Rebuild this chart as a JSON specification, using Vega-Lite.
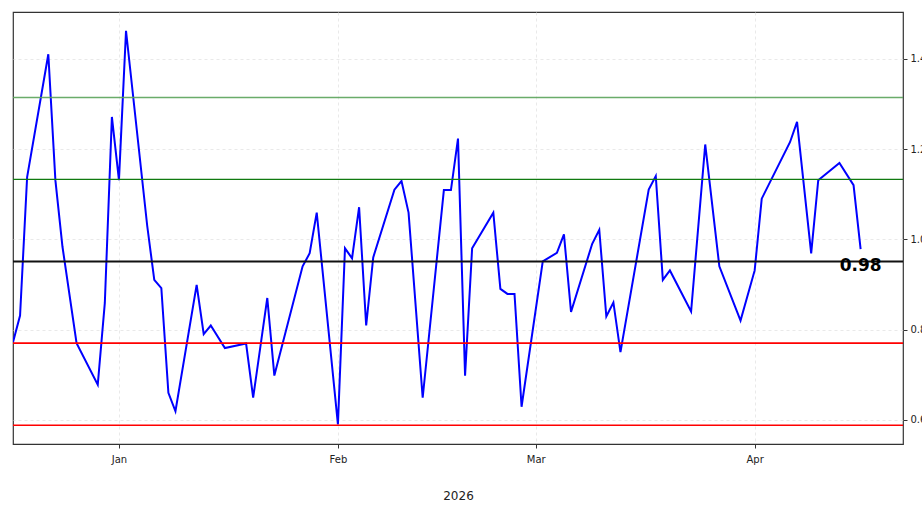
{
  "$schema": "https://vega.github.io/schema/vega-lite/v6.json",
  "width": 890,
  "height": 432,
  "autosize": {"type": "none"},
  "padding": {"left": 13, "top": 12, "right": 19, "bottom": 69},
  "background": "white",
  "config": {
    "font": "DejaVu Sans",
    "view": {"stroke": "#333333", "strokeWidth": 1.2},
    "axis": {
      "domain": false,
      "grid": true,
      "gridColor": "#e3e3e3",
      "gridDash": [3, 3],
      "gridWidth": 0.8,
      "tickColor": "#333333",
      "tickSize": 4,
      "labelColor": "#222222",
      "labelFontSize": 10,
      "titleColor": "#222222",
      "titleFontWeight": "normal"
    }
  },
  "datasets": {
    "series": [
      {"date": "2025-12-17", "value": 0.772},
      {"date": "2025-12-18", "value": 0.831},
      {"date": "2025-12-19", "value": 1.138},
      {"date": "2025-12-22", "value": 1.410},
      {"date": "2025-12-23", "value": 1.131},
      {"date": "2025-12-24", "value": 0.984},
      {"date": "2025-12-26", "value": 0.770},
      {"date": "2025-12-29", "value": 0.678},
      {"date": "2025-12-30", "value": 0.859},
      {"date": "2025-12-31", "value": 1.271},
      {"date": "2026-01-01", "value": 1.131},
      {"date": "2026-01-02", "value": 1.462},
      {"date": "2026-01-05", "value": 1.030},
      {"date": "2026-01-06", "value": 0.910},
      {"date": "2026-01-07", "value": 0.892},
      {"date": "2026-01-08", "value": 0.660},
      {"date": "2026-01-09", "value": 0.619},
      {"date": "2026-01-12", "value": 0.899},
      {"date": "2026-01-13", "value": 0.790},
      {"date": "2026-01-14", "value": 0.809},
      {"date": "2026-01-16", "value": 0.759},
      {"date": "2026-01-19", "value": 0.769},
      {"date": "2026-01-20", "value": 0.649},
      {"date": "2026-01-22", "value": 0.870},
      {"date": "2026-01-23", "value": 0.698},
      {"date": "2026-01-27", "value": 0.940},
      {"date": "2026-01-28", "value": 0.969},
      {"date": "2026-01-29", "value": 1.059},
      {"date": "2026-02-01", "value": 0.590},
      {"date": "2026-02-02", "value": 0.980},
      {"date": "2026-02-03", "value": 0.958},
      {"date": "2026-02-04", "value": 1.071},
      {"date": "2026-02-05", "value": 0.809},
      {"date": "2026-02-06", "value": 0.960},
      {"date": "2026-02-09", "value": 1.110},
      {"date": "2026-02-10", "value": 1.129},
      {"date": "2026-02-11", "value": 1.059},
      {"date": "2026-02-13", "value": 0.649},
      {"date": "2026-02-16", "value": 1.109},
      {"date": "2026-02-17", "value": 1.109},
      {"date": "2026-02-18", "value": 1.223},
      {"date": "2026-02-19", "value": 0.698},
      {"date": "2026-02-20", "value": 0.980},
      {"date": "2026-02-23", "value": 1.059},
      {"date": "2026-02-24", "value": 0.890},
      {"date": "2026-02-25", "value": 0.879},
      {"date": "2026-02-26", "value": 0.879},
      {"date": "2026-02-27", "value": 0.629},
      {"date": "2026-03-02", "value": 0.951},
      {"date": "2026-03-04", "value": 0.970},
      {"date": "2026-03-05", "value": 1.011},
      {"date": "2026-03-06", "value": 0.839},
      {"date": "2026-03-09", "value": 0.990},
      {"date": "2026-03-10", "value": 1.021},
      {"date": "2026-03-11", "value": 0.829},
      {"date": "2026-03-12", "value": 0.860},
      {"date": "2026-03-13", "value": 0.750},
      {"date": "2026-03-17", "value": 1.110},
      {"date": "2026-03-18", "value": 1.140},
      {"date": "2026-03-19", "value": 0.910},
      {"date": "2026-03-20", "value": 0.931},
      {"date": "2026-03-23", "value": 0.840},
      {"date": "2026-03-25", "value": 1.210},
      {"date": "2026-03-27", "value": 0.940},
      {"date": "2026-03-30", "value": 0.820},
      {"date": "2026-04-01", "value": 0.931},
      {"date": "2026-04-02", "value": 1.090},
      {"date": "2026-04-06", "value": 1.215},
      {"date": "2026-04-07", "value": 1.260},
      {"date": "2026-04-09", "value": 0.969},
      {"date": "2026-04-10", "value": 1.131},
      {"date": "2026-04-13", "value": 1.169},
      {"date": "2026-04-15", "value": 1.120},
      {"date": "2026-04-16", "value": 0.978}
    ],
    "levels": [
      {"name": "plus2", "level": 1.314},
      {"name": "plus1", "level": 1.1325},
      {"name": "mean", "level": 0.951},
      {"name": "minus1", "level": 0.770},
      {"name": "minus2", "level": 0.588}
    ]
  },
  "layer": [
    {
      "data": {"name": "series"},
      "mark": {"type": "line", "color": "#0000ff", "strokeWidth": 2, "clip": true},
      "encoding": {
        "x": {
          "field": "date",
          "type": "temporal",
          "scale": {
            "type": "utc",
            "domain": [
              {"year": 2025, "month": 12, "date": 17, "utc": true},
              {"year": 2026, "month": 4, "date": 22, "utc": true}
            ]
          },
          "axis": {
            "title": "2026",
            "titleFontSize": 12,
            "titlePadding": 26,
            "labelExpr": "utcFormat(datum.value, '%b')",
            "tickCount": {"interval": "month", "step": 1},
            "labelPadding": 6
          }
        },
        "y": {
          "field": "value",
          "type": "quantitative",
          "scale": {"domain": [0.5465, 1.5035], "nice": false, "zero": false},
          "axis": {
            "orient": "right",
            "title": null,
            "values": [0.6, 0.8, 1.0, 1.2, 1.4],
            "format": ".1f",
            "labelPadding": 3
          }
        }
      }
    },
    {
      "data": {"name": "levels"},
      "transform": [{"filter": "datum.name === 'plus2'"}],
      "mark": {"type": "rule", "color": "#5aa35a", "strokeWidth": 1.5, "opacity": 0.9},
      "encoding": {"y": {"field": "level", "type": "quantitative"}}
    },
    {
      "data": {"name": "levels"},
      "transform": [{"filter": "datum.name === 'plus1'"}],
      "mark": {"type": "rule", "color": "#107a10", "strokeWidth": 1.2},
      "encoding": {"y": {"field": "level", "type": "quantitative"}}
    },
    {
      "data": {"name": "levels"},
      "transform": [{"filter": "datum.name === 'mean'"}],
      "mark": {"type": "rule", "color": "#111111", "strokeWidth": 2},
      "encoding": {"y": {"field": "level", "type": "quantitative"}}
    },
    {
      "data": {"name": "levels"},
      "transform": [{"filter": "datum.name === 'minus1' || datum.name === 'minus2'"}],
      "mark": {"type": "rule", "color": "#ff0000", "strokeWidth": 1.6},
      "encoding": {"y": {"field": "level", "type": "quantitative"}}
    },
    {
      "data": {"name": "series"},
      "transform": [
        {"window": [{"op": "row_number", "as": "rn"}], "sort": [{"field": "date", "order": "descending"}]},
        {"filter": "datum.rn === 1"}
      ],
      "mark": {"type": "text", "fontSize": 17, "fontWeight": "bold", "color": "#000000", "align": "center", "baseline": "middle", "dy": 17},
      "encoding": {
        "x": {"field": "date", "type": "temporal"},
        "y": {"field": "value", "type": "quantitative"},
        "text": {"field": "value", "type": "quantitative", "format": ".2f"}
      }
    }
  ]
}
